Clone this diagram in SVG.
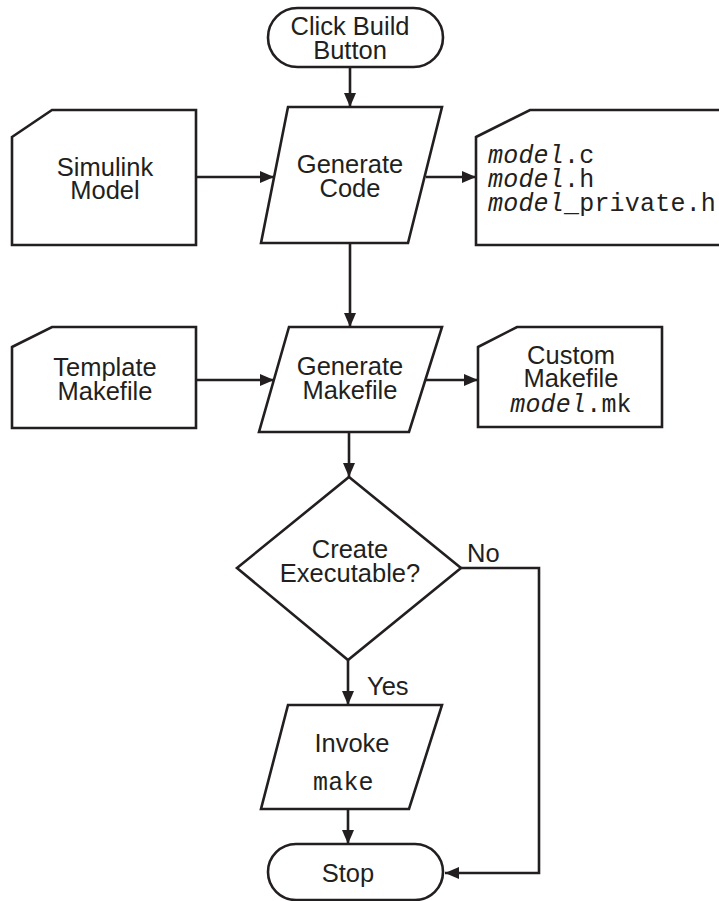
<svg xmlns="http://www.w3.org/2000/svg" width="719" height="901" viewBox="0 0 719 901">
<defs>
<marker id="arr" viewBox="0 0 14 12" refX="14" refY="6" markerWidth="14" markerHeight="12" markerUnits="userSpaceOnUse" orient="auto">
<path d="M0,0 L14,6 L0,12 Z" fill="#231f20"/>
</marker>
<style>
.shape{fill:#fff;stroke:#231f20;stroke-width:2.6;stroke-linejoin:miter}
.conn{fill:none;stroke:#231f20;stroke-width:2.6}
.t{font-family:"Liberation Sans",Arial,sans-serif;font-size:25.5px;fill:#231f20;text-anchor:middle}
.m{font-family:"Liberation Mono","DejaVu Sans Mono",monospace;font-size:25px;letter-spacing:0.2px;fill:#231f20}
.i{font-style:italic}
</style>
</defs>
<rect width="719" height="901" fill="#fff"/>
<g id="connectors">
<line class="conn" x1="350" y1="67" x2="350" y2="107" marker-end="url(#arr)"/>
<line class="conn" x1="196" y1="177" x2="274" y2="177" marker-end="url(#arr)"/>
<line class="conn" x1="426" y1="177" x2="476" y2="177" marker-end="url(#arr)"/>
<line class="conn" x1="350" y1="243" x2="350" y2="327" marker-end="url(#arr)"/>
<line class="conn" x1="196" y1="380" x2="274" y2="380" marker-end="url(#arr)"/>
<line class="conn" x1="425" y1="380" x2="478" y2="380" marker-end="url(#arr)"/>
<line class="conn" x1="349" y1="432" x2="349" y2="477" marker-end="url(#arr)"/>
<line class="conn" x1="348" y1="660" x2="348" y2="705" marker-end="url(#arr)"/>
<polyline class="conn" points="461,568 539,568 539,873 445,873" marker-end="url(#arr)"/>
<line class="conn" x1="348" y1="809" x2="348" y2="844" marker-end="url(#arr)"/>
<text class="t" x="367" y="695" style="text-anchor:start">Yes</text>
<text class="t" x="467" y="562" style="text-anchor:start">No</text>
</g>
<g id="start">
<rect class="shape" x="268" y="8" width="175" height="59" rx="29.5"/>
<text class="t" x="350" y="35">Click Build</text>
<text class="t" x="350" y="59">Button</text>
</g>
<g id="simulink">
<path class="shape" d="M12,137 L52,110 L196,110 L196,245 L12,245 Z"/>
<text class="t" x="105" y="176">Simulink</text>
<text class="t" x="105" y="199">Model</text>
</g>
<g id="gencode">
<path class="shape" d="M288,107 L442,107 L408,243 L261,243 Z"/>
<text class="t" x="350" y="173">Generate</text>
<text class="t" x="350" y="197">Code</text>
</g>
<g id="codefiles">
<path class="shape" d="M476,137 L530,110 L722,110 L722,245 L476,245 Z"/>
<text class="m" x="488" y="163"><tspan class="i">model</tspan>.c</text>
<text class="m" x="488" y="187"><tspan class="i">model</tspan>.h</text>
<text class="m" x="488" y="211"><tspan class="i">model</tspan>_private.h</text>
</g>
<g id="template">
<path class="shape" d="M12,347 L52,327 L196,327 L196,428 L12,428 Z"/>
<text class="t" x="105" y="376">Template</text>
<text class="t" x="105" y="400">Makefile</text>
</g>
<g id="genmake">
<path class="shape" d="M289,327 L442,327 L409,432 L259,432 Z"/>
<text class="t" x="350" y="375">Generate</text>
<text class="t" x="350" y="399">Makefile</text>
</g>
<g id="custom">
<path class="shape" d="M478,347 L517,327 L662,327 L662,427 L478,427 Z"/>
<text class="t" x="571" y="364">Custom</text>
<text class="t" x="571" y="387">Makefile</text>
<text class="m" x="571" y="412" style="text-anchor:middle"><tspan class="i">model</tspan>.mk</text>
</g>
<g id="decision">
<path class="shape" d="M349,477 L461,568 L348,660 L237,568 Z"/>
<text class="t" x="350" y="558">Create</text>
<text class="t" x="350" y="582">Executable?</text>
</g>
<g id="invoke">
<path class="shape" d="M288,705 L442,705 L409,809 L261,809 Z"/>
<text class="t" x="352" y="752">Invoke</text>
<text class="m" x="313" y="790">make</text>
</g>
<g id="stop">
<rect class="shape" x="268" y="844" width="175" height="56" rx="28"/>
<text class="t" x="348" y="882">Stop</text>
</g>
</svg>
